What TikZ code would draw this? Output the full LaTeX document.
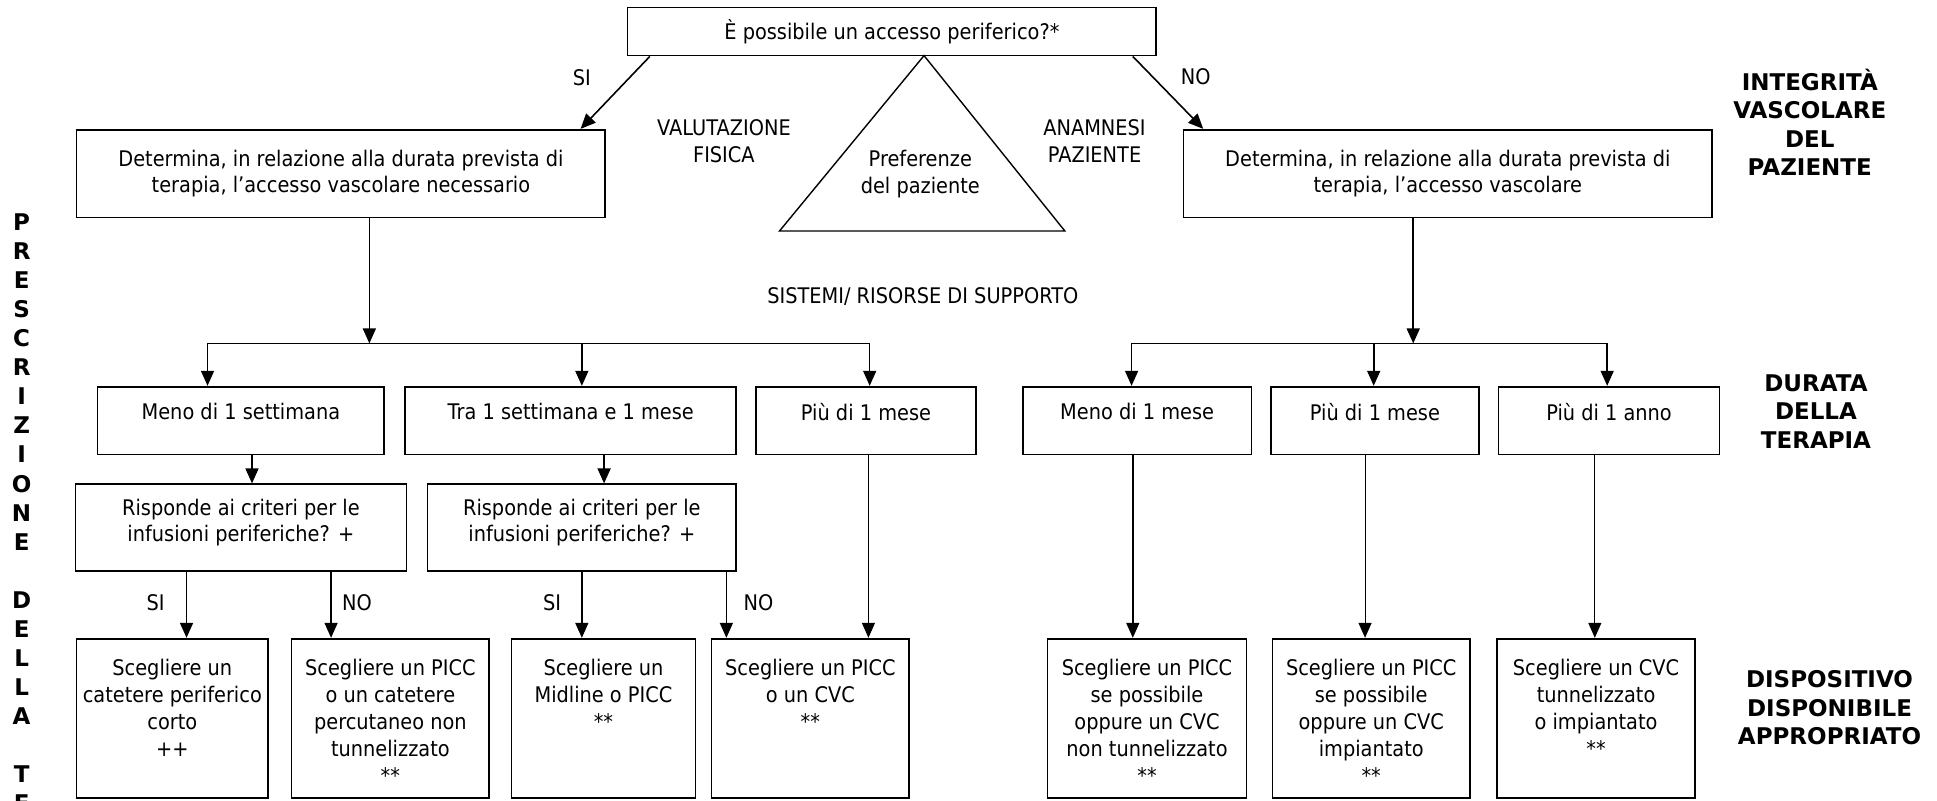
\documentclass[tikz,border=0pt]{standalone}
\usepackage{fontspec}
\setmainfont{DejaVu Sans}[FakeStretch=0.9]
\newfontfamily\headfont{DejaVu Sans}
\usetikzlibrary{arrows.meta,fit}

\begin{document}
\begin{tikzpicture}[x=1.2353pt, y=-1.2353pt,
  every node/.style={inner sep=0pt},
  box/.style={draw, line width=1.7pt, inner sep=0pt},
  txt/.style={align=center, font=\fontsize{21.5}{26.8}\selectfont},
  head/.style={align=center, font=\headfont\bfseries\fontsize{23}{28.3}\selectfont},
  conn/.style={line width=1.6pt},
  arr/.style={line width=1.6pt, -{Triangle[length=15pt,width=13pt]}},
  thinarr/.style={line width=1.1pt, -{Triangle[length=15pt,width=13pt]}},
]
\useasboundingbox (0,0) rectangle (1568,648);
\clip (0,0) rectangle (1568,648);

% ---- top question and the two "Determina" boxes
\node[box, fit={(508,6) (936,45)}] (q) {};
\node[txt] (qt) at (q.center) {È possibile un accesso periferico?*};
\node[box, fit={(62,105) (490,176)}] (pl) {};
\node[txt] (plt) at (pl.center)
  {Determina, in relazione alla durata prevista di\\terapia, l’accesso vascolare necessario};
\node[box, fit={(958,105) (1386,176)}] (pr) {};
\node[txt] (prt) at (pr.center)
  {Determina, in relazione alla durata prevista di\\terapia, l’accesso vascolare};

\coordinate (siStart) at (526,45);
\coordinate (noStart) at (917,45);
\draw[arr] (q.south -| siStart) -- (pl.north -| 470,0);
\draw[arr] (q.south -| noStart) -- (pr.north -| 974,0);
\node[txt] (siTop) at (471,63) {SI};
\node[txt] (noTop) at (968,62) {NO};

% ---- patient preference triangle and side notes
\coordinate (apex) at (748,45);
\coordinate (baseL) at (631,187);
\coordinate (baseR) at (862,187);
\draw[line width=1.4pt, line join=miter] (apex) -- (baseL) -- (baseR) -- cycle;
\node[txt] (pref) at (745,141) {Preferenze\\del paziente};
\node[txt] (valut) at (586,114) {VALUTAZIONE\\FISICA};
\node[txt] (anam) at (886,114) {ANAMNESI\\PAZIENTE};
\node[txt] (sist) at (747,240) {SISTEMI/ RISORSE DI SUPPORTO};

% ---- side headings
\node[head] (hInt) at (1465,99) {INTEGRITÀ\\VASCOLARE\\DEL\\PAZIENTE};
\node[head] (hDur) at (1470,333) {DURATA\\DELLA\\TERAPIA};
\node[head] (hDis) at (1481,573) {DISPOSITIVO\\DISPONIBILE\\APPROPRIATO};
\foreach \ch [count=\i from 0] in {P,R,E,S,C,R,I,Z,I,O,N,E,,D,E,L,L,A,,T,E}
  \node[head] (v\i) at (17.5,180+\i*23.5) {\ch};

% ---- duration boxes
\node[box, fit={(79,313) (311,368)}] (l1) {};
\node[box, fit={(328,313) (596,368)}] (l2) {};
\node[box, fit={(612,313) (790,368)}] (l3) {};
\node[box, fit={(828,313) (1013,368)}] (r1) {};
\node[box, fit={(1029,313) (1197,368)}] (r2) {};
\node[box, fit={(1213,313) (1392,368)}] (r3) {};
\foreach \b/\t in {l1/Meno di 1 settimana, l2/Tra 1 settimana e 1 mese, l3/Più di 1 mese,
                   r1/Meno di 1 mese, r2/Più di 1 mese, r3/Più di 1 anno}
  \node[txt] (\b t) at ([yshift=-26pt]\b.north) {\t};

% ---- left split bus
\coordinate (lsplit) at (299,278);
\coordinate (lb1) at (168,278);
\coordinate (lb2) at (471,278);
\coordinate (lb3) at (704,278);
\draw[arr] (pl.south -| lsplit) -- (lsplit);
\draw[conn] (lb1) -- (lb3);
\draw[arr] (lb1) -- (l1.north -| lb1);
\draw[arr] (lb2) -- (l2.north -| lb2);
\draw[arr] (lb3) -- (l3.north -| lb3);

% ---- right split bus
\coordinate (rsplit) at (1144,278);
\coordinate (rb1) at (916,278);
\coordinate (rb2) at (1112,278);
\coordinate (rb3) at (1301,278);
\draw[arr] (pr.south -| rsplit) -- (rsplit);
\draw[conn] (rb1) -- (rb3);
\draw[arr] (rb1) -- (r1.north -| rb1);
\draw[arr] (rb2) -- (r2.north -| rb2);
\draw[arr] (rb3) -- (r3.north -| rb3);

% ---- peripheral criteria questions
\node[box, fit={(61,392) (329,462)}] (ra) {};
\node[txt] (rat) at ([yshift=5pt]ra.center) {Risponde ai criteri per le\\infusioni periferiche? +};
\node[box, fit={(346,392) (596,462)}] (rb) {};
\node[txt] (rbt) at ([yshift=5pt]rb.center) {Risponde ai criteri per le\\infusioni periferiche? +};
\coordinate (ca) at (204,0);
\coordinate (cb) at (489,0);
\draw[arr] (l1.south -| ca) -- (ra.north -| ca);
\draw[arr] (l2.south -| cb) -- (rb.north -| cb);

% ---- device boxes
\node[box, fit={(62,517) (217,646)}] (b1) {};
\node[box, fit={(236,517) (396,646)}] (b2) {};
\node[box, fit={(414,517) (563,646)}] (b3) {};
\node[box, fit={(576,517) (736,646)}] (b4) {};
\node[box, fit={(848,517) (1009,646)}] (b5) {};
\node[box, fit={(1030,517) (1190,646)}] (b6) {};
\node[box, fit={(1212,517) (1372,646)}] (b7) {};
\node[txt, anchor=north] (b1t) at ([yshift=-21.5pt]b1.north) {Scegliere un\\catetere periferico\\corto\\++};
\node[txt, anchor=north] (b2t) at ([yshift=-21.5pt]b2.north) {Scegliere un PICC\\o un catetere\\percutaneo non\\tunnelizzato\\**};
\node[txt, anchor=north] (b3t) at ([yshift=-21.5pt]b3.north) {Scegliere un\\Midline o PICC\\**};
\node[txt, anchor=north] (b4t) at ([yshift=-21.5pt]b4.north) {Scegliere un PICC\\o un CVC\\**};
\node[txt, anchor=north] (b5t) at ([yshift=-21.5pt]b5.north) {Scegliere un PICC\\se possibile\\oppure un CVC\\non tunnelizzato\\**};
\node[txt, anchor=north] (b6t) at ([yshift=-21.5pt]b6.north) {Scegliere un PICC\\se possibile\\oppure un CVC\\impiantato\\**};
\node[txt, anchor=north] (b7t) at ([yshift=-21.5pt]b7.north) {Scegliere un CVC\\tunnelizzato\\o impiantato\\**};

% ---- connectors into the device boxes
\coordinate (x1) at (151,0);
\coordinate (x2) at (268,0);
\coordinate (x3) at (471,0);
\coordinate (x4) at (588,0);
\coordinate (x5) at (703,0);
\coordinate (x6) at (917,0);
\coordinate (x7) at (1105,0);
\coordinate (x8) at (1291,0);
\draw[arr] (ra.south -| x1) -- (b1.north -| x1);
\draw[arr] (ra.south -| x2) -- (b2.north -| x2);
\draw[arr] (rb.south -| x3) -- (b3.north -| x3);
\draw[arr] (rb.south -| x4) -- (b4.north -| x4);
\draw[thinarr] (l3.south -| x5) -- (b4.north -| x5);
\draw[arr] (r1.south -| x6) -- (b5.north -| x6);
\draw[thinarr] (r2.south -| x7) -- (b6.north -| x7);
\draw[thinarr] (r3.south -| x8) -- (b7.north -| x8);
\node[txt] (si1) at (126,488) {SI};
\node[txt] (no1) at (289,488) {NO};
\node[txt] (si2) at (447,488) {SI};
\node[txt] (no2) at (614,488) {NO};
\end{tikzpicture}
\end{document}
